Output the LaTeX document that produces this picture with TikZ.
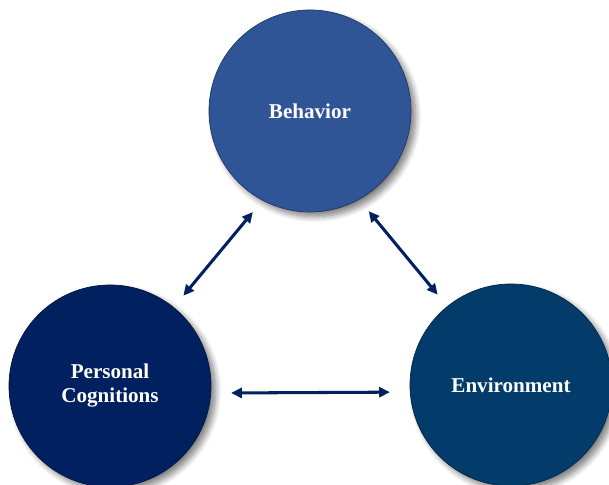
\documentclass[tikz,border=0pt]{standalone}
\usepackage{fontspec}
\setmainfont{Liberation Serif}
\usepackage[HTML]{xcolor}
\usetikzlibrary{positioning, arrows.meta, shadows.blur}
\definecolor{behblue}{HTML}{2F5597}
\definecolor{pernavy}{HTML}{002060}
\definecolor{envblue}{HTML}{033C6B}

\begin{document}
\begin{tikzpicture}[x=0.03cm,y=0.03cm,
  bubble/.style={circle,minimum size=6.06cm,inner sep=0pt,draw=#1!65!black,line width=0.6pt,
    fill=#1,text=white,align=center,font=\fontsize{18}{20.5}\selectfont\bfseries,
    blur shadow={shadow xshift=4pt,shadow yshift=-4pt,shadow blur steps=8,shadow blur radius=5pt,shadow opacity=50}},
  link/.style={{Triangle[length=3.2mm,width=3mm]}-{Triangle[length=3.2mm,width=3mm]},
    line width=2.6pt,pernavy,shorten <=#1,shorten >=#1}]
\useasboundingbox (0,0) rectangle (609,485);
\clip (0,0) rectangle (609,485);
% circles
\node[bubble=behblue] (beh) at (310,374) {Behavior};
\node[bubble=pernavy] (per) at (110,99) {Personal\\Cognitions};
\node[bubble=envblue] (env) at (511,100) {Environment};
% two-way links
\draw[link=0.45cm] (beh.242) -- (per.51);
\draw[link=0.45cm] (beh.299) -- (env.129);
\draw[link=0.6cm] (per.-4) -- (env.184);
\end{tikzpicture}
\end{document}
